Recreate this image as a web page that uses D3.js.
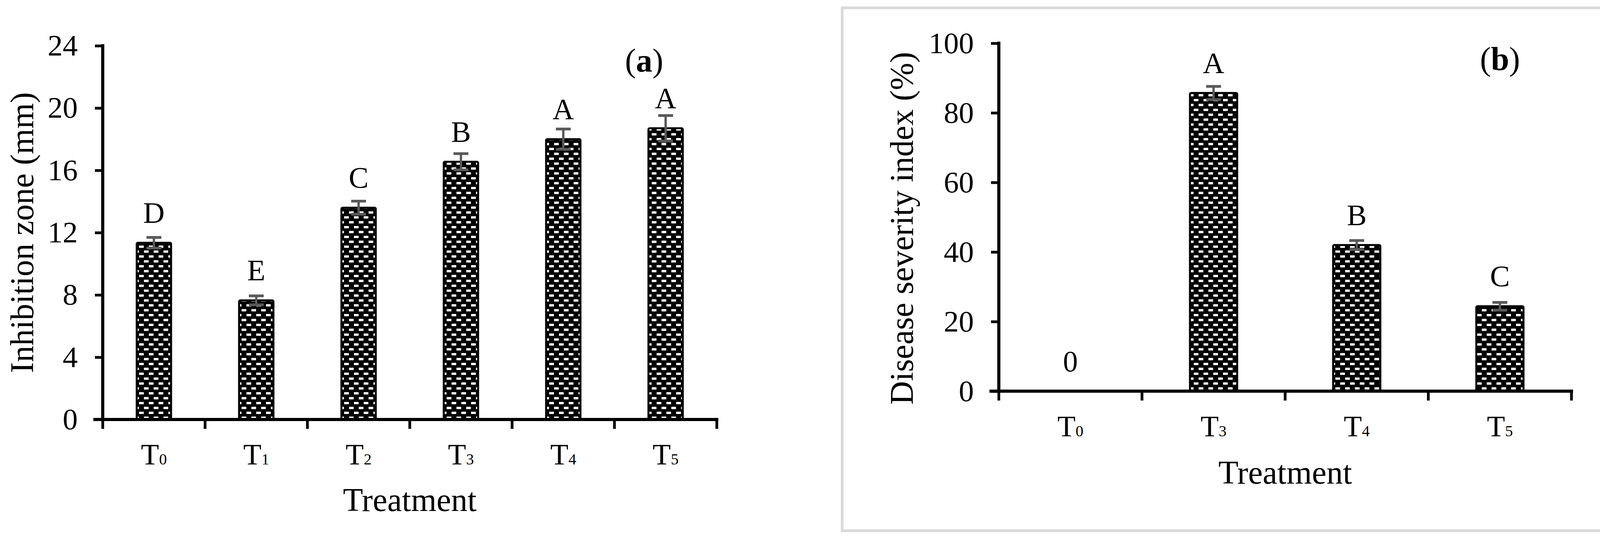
<!DOCTYPE html>
<html>
<head>
<meta charset="utf-8">
<script src="https://cdn.jsdelivr.net/npm/d3@7/dist/d3.min.js"></script>
<style>
  html, body { margin: 0; padding: 0; background: #fff; }
  svg text { font-family: "Liberation Serif", "Times New Roman", serif; fill: #000; }
</style>
</head>
<body>
<svg id="chart" width="4120" height="1371"></svg>
<script>
// ---------------- DATA ----------------
const categoriesA = ["T0", "T1", "T2", "T3", "T4", "T5"];
const valuesA     = [11.35, 7.65, 13.6, 16.55, 18.0, 18.7];
const errorsA     = [0.34, 0.29, 0.42, 0.52, 0.65, 0.82];
const lettersA    = ["D", "E", "C", "B", "A", "A"];
const ticksA      = [0, 4, 8, 12, 16, 20, 24];

const categoriesB = ["T0", "T3", "T4", "T5"];
const valuesB     = [0, 85.7, 42.0, 24.4];
const errorsB     = [0, 1.9, 1.3, 1.1];
const lettersB    = ["0", "A", "B", "C"];
const ticksB      = [0, 20, 40, 60, 80, 100];

// ---------------- DRAW ----------------
const svg = d3.select("#chart");
const defs = svg.append("defs");
const pat = defs.append("pattern")
  .attr("id", "checker")
  .attr("patternUnits", "userSpaceOnUse")
  .attr("width", 25).attr("height", 25);
pat.append("rect").attr("width", 25).attr("height", 25).attr("fill", "#000");
pat.append("rect").attr("x", 6).attr("y", 3).attr("width", 12).attr("height", 6).attr("fill", "#fff");
pat.append("rect").attr("x", 18.5).attr("y", 15.5).attr("width", 12).attr("height", 6).attr("fill", "#fff");
pat.append("rect").attr("x", -6.5).attr("y", 15.5).attr("width", 12).attr("height", 6).attr("fill", "#fff");

function panel(cfg) {
  const g = svg.append("g");
  const x = d3.scaleBand().domain(cfg.cats).range([cfg.x0, cfg.x1]).padding(0);
  const y = d3.scaleLinear().domain([0, cfg.max]).range([cfg.y0, cfg.y1]);
  const bw = x.bandwidth() * cfg.barFrac;

  // y axis
  const yAxis = d3.axisLeft(y).tickValues(cfg.ticks).tickSize(20).tickPadding(44).tickSizeOuter(0);
  const ya = g.append("g").attr("transform", `translate(${cfg.x0},0)`).call(yAxis);
  ya.select(".domain").attr("stroke", "#000").attr("stroke-width", 8).attr("d", `M0,${cfg.y0 + 4}V${cfg.y1 - 4}`);
  ya.selectAll(".tick line").attr("stroke", "#000").attr("stroke-width", 7);
  ya.selectAll(".tick text").attr("font-size", 77).attr("fill", "#000")
    .style("font-family", '"Liberation Serif", serif');

  // bars
  g.selectAll("rect.bar").data(cfg.values.map((v, i) => ({ c: cfg.cats[i], v, i })).filter(d => d.v > 0))
    .enter().append("rect").attr("class", "bar")
    .attr("x", d => x(d.c) + (x.bandwidth() - bw) / 2)
    .attr("y", d => y(d.v))
    .attr("width", bw)
    .attr("height", d => y(0) - y(d.v))
    .attr("rx", 3)
    .attr("fill", "url(#checker)")
    .attr("stroke", "#000").attr("stroke-width", 5);

  // error bars
  const eb = g.selectAll("g.err").data(cfg.values.map((v, i) => ({ c: cfg.cats[i], v, e: cfg.errors[i] })).filter(d => d.e > 0))
    .enter().append("g").attr("class", "err");
  eb.append("line")
    .attr("x1", d => x(d.c) + x.bandwidth() / 2).attr("x2", d => x(d.c) + x.bandwidth() / 2)
    .attr("y1", d => y(d.v + d.e)).attr("y2", d => y(d.v - d.e))
    .attr("stroke", "#595959").attr("stroke-width", 6);
  [1, -1].forEach(s => {
    eb.append("line")
      .attr("x1", d => x(d.c) + x.bandwidth() / 2 - 19).attr("x2", d => x(d.c) + x.bandwidth() / 2 + 19)
      .attr("y1", d => y(d.v + s * d.e)).attr("y2", d => y(d.v + s * d.e))
      .attr("stroke", "#595959").attr("stroke-width", 7);
  });

  // x axis line
  g.append("line").attr("x1", cfg.x0 - 24).attr("x2", cfg.x1 + 4)
    .attr("y1", cfg.y0).attr("y2", cfg.y0).attr("stroke", "#000").attr("stroke-width", 8);
  // x boundary ticks
  const bounds = cfg.cats.map(c => x(c)).concat([x.range()[1]]);
  g.selectAll("line.xt").data(bounds).enter().append("line").attr("class", "xt")
    .attr("x1", d => d).attr("x2", d => d)
    .attr("y1", cfg.y0).attr("y2", cfg.y0 + 24)
    .attr("stroke", "#000").attr("stroke-width", 7);
  // x tick labels with subscript
  const xl = g.selectAll("text.xl").data(cfg.cats).enter().append("text").attr("class", "xl")
    .attr("x", d => x(d) + x.bandwidth() / 2)
    .attr("y", cfg.y0 + 115)
    .attr("text-anchor", "middle")
    .attr("font-size", 76);
  xl.append("tspan").text(d => d.charAt(0));
  xl.append("tspan").attr("font-size", 40).text(d => d.slice(1));

  // letters
  g.selectAll("text.lt").data(cfg.letters).enter().append("text").attr("class", "lt")
    .attr("x", (d, i) => x(cfg.cats[i]) + x.bandwidth() / 2)
    .attr("y", (d, i) => y(cfg.values[i]) - 51)
    .attr("text-anchor", "middle")
    .attr("font-size", 76)
    .text(d => d);

  // panel tag
  const tag = g.append("text").attr("x", cfg.tagX).attr("y", cfg.tagY)
    .attr("text-anchor", "middle").attr("font-size", 84);
  tag.append("tspan").text("(");
  tag.append("tspan").attr("font-weight", "bold").text(cfg.tag);
  tag.append("tspan").text(")");

  // axis titles
  g.append("text").attr("transform", `translate(${cfg.ytX},${cfg.ytY}) rotate(-90)`)
    .attr("text-anchor", "middle").attr("font-size", 84).text(cfg.yTitle);
  g.append("text").attr("x", (cfg.x0 + cfg.x1) / 2).attr("y", cfg.xtY)
    .attr("text-anchor", "middle").attr("font-size", 84).text("Treatment");
}

// right panel border
svg.append("rect").attr("x", 2156).attr("y", 20).attr("width", 1950).attr("height", 1337.5)
  .attr("fill", "none").attr("stroke", "#d9d9d9").attr("stroke-width", 7);

panel({
  cats: categoriesA, values: valuesA, errors: errorsA, letters: lettersA, ticks: ticksA, max: 24,
  x0: 263, x1: 1835, y0: 1073, y1: 117, barFrac: 0.336,
  tag: "a", tagX: 1649, tagY: 183,
  yTitle: "Inhibition zone (mm)", ytX: 85, ytY: 595, xtY: 1307
});
panel({
  cats: categoriesB, values: valuesB, errors: errorsB, letters: lettersB, ticks: ticksB, max: 100,
  x0: 2557, x1: 4023, y0: 1000.5, y1: 110.6, barFrac: 0.33,
  tag: "b", tagX: 3840, tagY: 179,
  yTitle: "Disease severity index (%)", ytX: 2337, ytY: 584, xtY: 1237
});
</script>
</body>
</html>
